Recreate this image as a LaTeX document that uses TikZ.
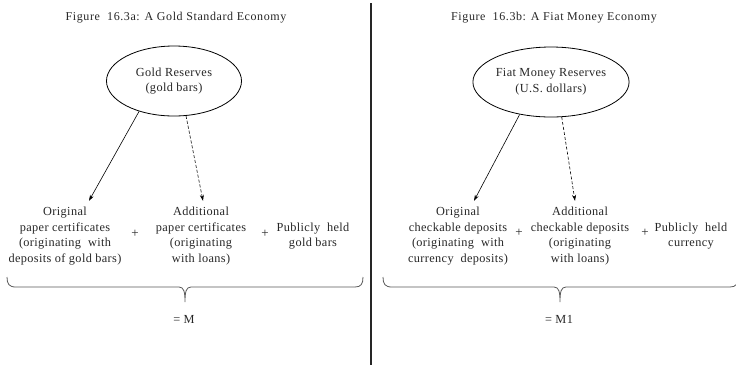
\documentclass[tikz,border=0pt]{standalone}
\usepackage{fontspec}
\setmainfont{Liberation Serif}[LetterSpace=3]
\usetikzlibrary{shapes.geometric,calc,arrows.meta}
\begin{document}
\begin{tikzpicture}[x=1pt,y=-1pt,
  every node/.style={inner sep=0pt,text=black!85,font=\fontsize{12.3}{15.6}\selectfont},
  title/.style={font=\fontsize{12}{14}\selectfont\addfontfeatures{LetterSpace=5}},
  oval/.style={draw,ellipse,thick,align=center,minimum height=70pt},
  block/.style={align=center},
  plus/.style={font=\fontsize{13}{14}\selectfont},
  arr/.style={-{Stealth[length=6pt,width=4pt]},line width=0.6pt},
  darr/.style={arr,dashed,dash pattern=on 3pt off 2pt},
  bracecol/.style={draw=black!65,line width=0.8pt}
]
\useasboundingbox (0,0) rectangle (736,365);

% divider
\coordinate (dtop) at (371,3);
\coordinate (dbot) at (371,365);
\draw[line width=2pt,black!85] (dtop) -- (dbot);

% ---------- left panel ----------
\node[title] (tA) at (176,18) {Figure\ \ 16.3a: A Gold Standard Economy};
\node[oval,minimum width=135pt] (ellA) at (174,81) {Gold Reserves\\(gold bars)};

\node[block] (origA) at (65,236) {Original\\paper certificates\\(originating\ \ with\\deposits of gold bars)};
\node[plus] (p1A) at (135,234) {+};
\node[block] (addA) at (201,236) {Additional\\paper certificates\\(originating\\with loans)};
\node[plus] (p2A) at (265,234) {+};
\node[block] (pubA) at (313,236) {Publicly\ \ held\\gold bars};
\node (mA) at (184,319) {= M};

\draw[arr] (ellA.221) -- ($(origA.north)+(24,-6)$);
\draw[darr] (ellA.289) -- ($(addA.north)+(2,-6)$);

\coordinate (bAl) at (7,277);
\coordinate (bAt) at (185,302);
\coordinate (bAr) at (363,277);
\draw[bracecol] (bAl) .. controls (7,284) and (9,287) .. (16,287) -- (179,287)
  .. controls (184,287) and (185,292) .. (bAt)
  .. controls (185,292) and (186,287) .. (191,287) -- (355,287)
  .. controls (361,287) and (363,284) .. (bAr);

% ---------- right panel ----------
\node[title] (tB) at (554,18) {Figure\ \ 16.3b: A Fiat Money Economy};
\node[oval,minimum width=101pt] (ellB) at (551,82) {Fiat Money Reserves\\(U.S.\ dollars)};

\node[block] (origB) at (458,236) {Original\\checkable deposits\\(originating\ \ with\\currency\ \ deposits)};
\node[plus] (p1B) at (519,233) {+};
\node[block] (addB) at (580,236) {Additional\\checkable deposits\\(originating\\with loans)};
\node[plus] (p2B) at (645,233) {+};
\node[block] (pubB) at (691,236) {Publicly\ \ held\\currency};
\node (mB) at (559,319) {= M1};

\draw[arr] (ellB.226) -- ($(origB.north)+(16,-6)$);
\draw[darr] (ellB.287) -- ($(addB.north)+(-5,-6)$);

\coordinate (bBl) at (383,277);
\coordinate (bBt) at (560,302);
\coordinate (bBr) at (738,277);
\draw[bracecol] (bBl) .. controls (383,284) and (385,287) .. (392,287) -- (554,287)
  .. controls (559,287) and (560,292) .. (bBt)
  .. controls (560,292) and (561,287) .. (566,287) -- (730,287)
  .. controls (736,287) and (738,284) .. (bBr);
\end{tikzpicture}
\end{document}
